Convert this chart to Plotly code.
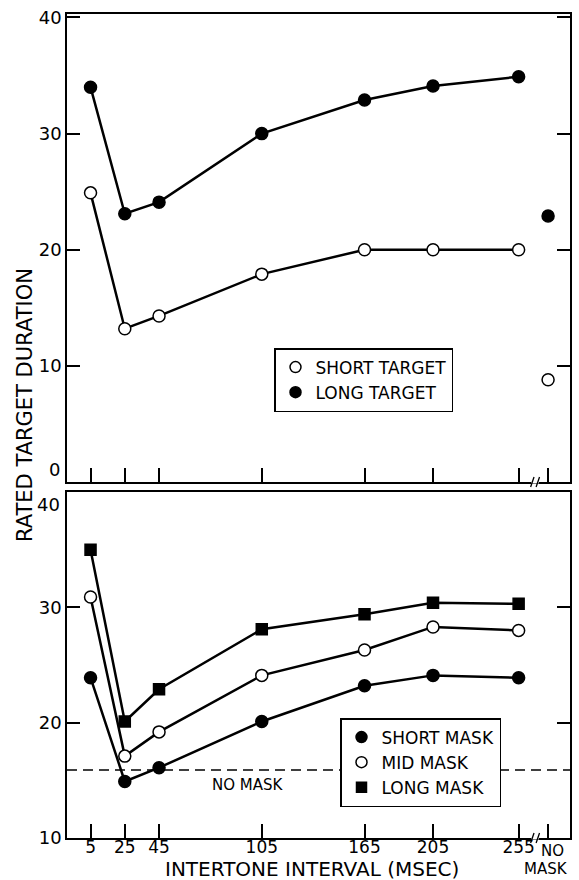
import plotly.graph_objects as go

# ---- data ----
intervals = [5, 25, 45, 105, 165, 205, 255]
short_target = [24.9, 13.2, 14.3, 17.9, 20.0, 20.0, 20.0]
long_target = [34.0, 23.1, 24.1, 30.0, 32.9, 34.1, 34.9]
short_target_nomask = [8.8]
long_target_nomask = [22.9]

short_mask = [23.9, 14.9, 16.1, 20.1, 23.2, 24.1, 23.9]
mid_mask = [30.9, 17.1, 19.2, 24.1, 26.3, 28.3, 28.0]
long_mask = [35.0, 20.1, 22.9, 28.1, 29.4, 30.4, 30.3]
no_mask_level = 15.9

NO_MASK_X = 272.2
tick_vals = intervals + [NO_MASK_X]
tick_text = ["5", "25", "45", "105", "165", "205", "255", ""]
no_mask_label = ["NO", "MASK"]

top_y_ticks = [0, 10, 20, 30, 40]
top_y_text = ["", "10", "20", "30", "40"]
bot_y_ticks = [10, 20, 30, 40]
bot_y_text = ["10", "20", "30", ""]

FONT = "DejaVu Sans"
LW = 2.5
MS = 12

fig = go.Figure()

def line_trace(y, filled, symbol, xa, ya, x=None, mode="lines+markers"):
    return go.Scatter(
        x=intervals if x is None else x, y=y, mode=mode, xaxis=xa, yaxis=ya,
        line=dict(color="black", width=LW),
        marker=dict(symbol=symbol, size=MS if symbol == "circle" else MS - 1,
                    color="black" if filled else "white",
                    line=dict(color="black", width=1.5)),
        showlegend=False, hoverinfo="skip", cliponaxis=False)

# top panel
fig.add_trace(line_trace(short_target, False, "circle", "x2", "y2"))
fig.add_trace(line_trace(long_target, True, "circle", "x2", "y2"))
fig.add_trace(line_trace(short_target_nomask, False, "circle", "x2", "y2", x=[NO_MASK_X], mode="markers"))
fig.add_trace(line_trace(long_target_nomask, True, "circle", "x2", "y2", x=[NO_MASK_X], mode="markers"))

# bottom panel
fig.add_trace(line_trace(short_mask, True, "circle", "x", "y"))
fig.add_trace(line_trace(mid_mask, False, "circle", "x", "y"))
fig.add_trace(line_trace(long_mask, True, "square", "x", "y"))

# legend entries
def leg(name, filled, symbol, legend):
    return go.Scatter(x=[None], y=[None], mode="markers", name=name, legend=legend,
                      marker=dict(symbol=symbol, size=11 if symbol == "circle" else 10,
                                  color="black" if filled else "white",
                                  line=dict(color="black", width=1.5)))

fig.add_trace(leg("SHORT TARGET", False, "circle", "legend"))
fig.add_trace(leg("LONG TARGET", True, "circle", "legend"))
fig.add_trace(leg("SHORT MASK", True, "circle", "legend2"))
fig.add_trace(leg("MID MASK", False, "circle", "legend2"))
fig.add_trace(leg("LONG MASK", True, "square", "legend2"))

top_dom = [(838 - 482) / 824, 1.0]
bot_dom = [0.0, (838 - 492) / 824]

axis_common = dict(showline=True, linecolor="black", linewidth=1.5, mirror=True,
                   showgrid=False, zeroline=False, ticks="inside",
                   tickcolor="black", tickwidth=1.5, automargin=False,
                   tickfont=dict(family=FONT, size=18, color="black"))

legend_common = dict(xanchor="left", yanchor="top", bordercolor="black", borderwidth=1.5,
                     bgcolor="white", font=dict(family=FONT, size=17, color="black"),
                     tracegroupgap=0, itemwidth=30)

fig.update_layout(
    width=579, height=880,
    margin=dict(l=67, r=9, t=14, b=42, autoexpand=False),
    paper_bgcolor="white", plot_bgcolor="white",
    font=dict(family=FONT, color="black"),
    xaxis=dict(axis_common, domain=[0, 1], anchor="y", range=[-8.75, 285.0],
               tickvals=tick_vals, ticktext=tick_text, ticklen=14, tickangle=0,
               ticklabelstandoff=-7, tickfont=dict(family=FONT, size=17, color="black")),
    xaxis2=dict(axis_common, domain=[0, 1], anchor="y2", matches="x",
                tickvals=tick_vals, showticklabels=False, ticklen=14),
    yaxis=dict(axis_common, domain=bot_dom, anchor="x", range=[10, 40],
               tickvals=bot_y_ticks, ticktext=bot_y_text, ticklen=13, mirror="allticks"),
    yaxis2=dict(axis_common, domain=top_dom, anchor="x2", range=[0, 40.3],
                tickvals=top_y_ticks, ticktext=top_y_text, ticklen=13, mirror="allticks"),
    legend=dict(legend_common, x=(274 - 67) / 503, y=(838 - 348) / 824),
    legend2=dict(legend_common, x=(340 - 67) / 503, y=(838 - 718) / 824),
)

# end labels that sit off-centre from their ticks
fig.add_annotation(x=0, xref="paper", xanchor="right", xshift=-5, y=0, yref="y2",
                   yanchor="bottom", text="0", showarrow=False,
                   font=dict(family=FONT, size=18, color="black"))
fig.add_annotation(x=0, xref="paper", xanchor="right", xshift=-5, y=40, yref="y",
                   yanchor="top", text="40", showarrow=False,
                   font=dict(family=FONT, size=18, color="black"))

# "NO MASK" category label (two lines)
fig.add_annotation(x=NO_MASK_X, xref="x", y=(838 - 851) / 824, yref="paper",
                   xanchor="center", yanchor="middle", xshift=4, text=no_mask_label[0],
                   showarrow=False, font=dict(family=FONT, size=15, color="black"))
fig.add_annotation(x=NO_MASK_X, xref="x", y=(838 - 869) / 824, yref="paper",
                   xanchor="center", yanchor="middle", xshift=-2, text=no_mask_label[1],
                   showarrow=False, font=dict(family=FONT, size=15, color="black"))

# no-mask dashed reference line
fig.add_shape(type="line", xref="x domain", yref="y", x0=0, x1=1,
              y0=no_mask_level, y1=no_mask_level,
              line=dict(color="black", width=1.5, dash="10px,6px"), layer="below")

fig.add_annotation(x=97, y=no_mask_level, xref="x", yref="y", yanchor="top", yshift=-4,
                   text="NO MASK", showarrow=False,
                   font=dict(family=FONT, size=15, color="black"))

# axis break marks
BREAK_X = 264.6
for yp in [0.0, top_dom[0]]:
    fig.add_shape(type="line", xref="x", yref="paper", x0=BREAK_X - 2.2, x1=BREAK_X + 2.2,
                  y0=yp, y1=yp, line=dict(color="white", width=3), layer="above")
    for dx in [-1.6, 1.6]:
        fig.add_shape(type="line", xref="x", yref="paper",
                      x0=BREAK_X + dx - 1.0, x1=BREAK_X + dx + 1.0,
                      y0=yp - 0.006, y1=yp + 0.006,
                      line=dict(color="black", width=1.3), layer="above")

# axis titles
fig.add_annotation(x=(312 - 67) / 503, y=(838 - 869) / 824, xref="paper", yref="paper",
                   xanchor="center", yanchor="middle",
                   text="INTERTONE INTERVAL (MSEC)", showarrow=False,
                   font=dict(family=FONT, size=20, color="black"))
fig.add_annotation(x=(25 - 67) / 503, y=(838 - 405) / 824, xref="paper", yref="paper",
                   xanchor="center", yanchor="middle",
                   text="RATED TARGET DURATION", textangle=-90, showarrow=False,
                   font=dict(family=FONT, size=21, color="black"))

fig.write_html("out.html")
